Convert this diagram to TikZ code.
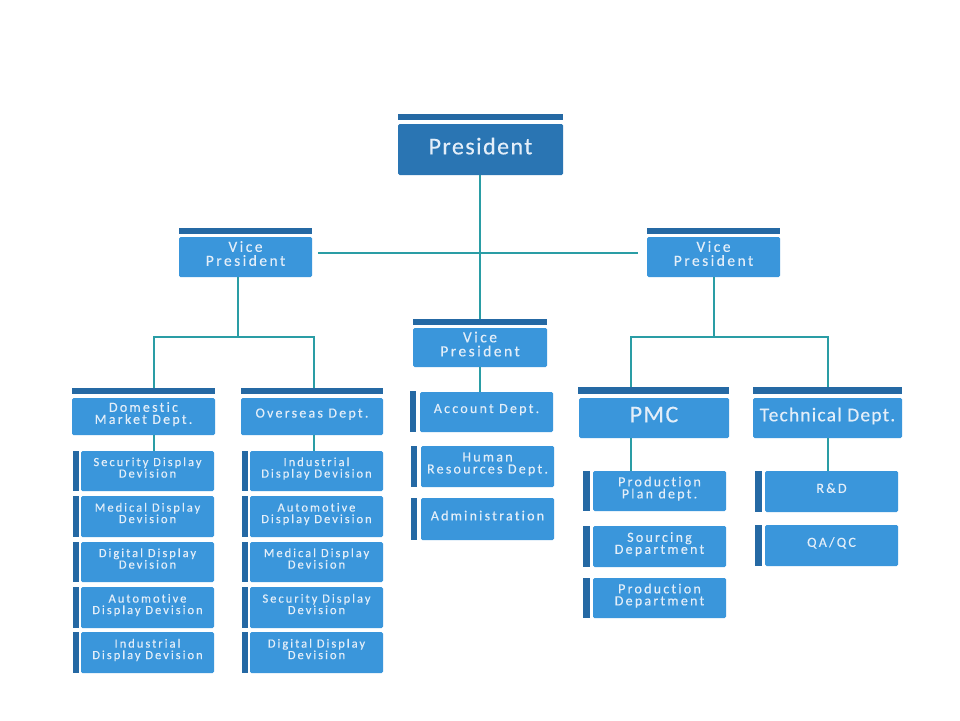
\documentclass[tikz,border=0pt]{standalone}
\usepackage{fontspec}
\setmainfont{Carlito}
\newfontfamily\bigf[LetterSpace=6,Ligatures=NoCommon,FakeBold=0.3]{Carlito}
\newfontfamily\smf[LetterSpace=16,Ligatures=NoCommon,FakeBold=0.3]{Carlito}
\definecolor{boxblue}{HTML}{3A96DB}
\definecolor{presblue}{HTML}{2A75B3}
\definecolor{barblue}{HTML}{2569A4}
\definecolor{conncol}{HTML}{2A9DA5}
\definecolor{txtcol}{HTML}{E3EEF9}
\tikzset{
  x=1pt, y=-1pt,
  orgbox/.style={fill=boxblue, rounded corners=1.5pt, inner sep=0pt, outer sep=0pt,
    text=txtcol, align=center, text depth=7pt},
  barbox/.style={fill=barblue, inner sep=0pt, outer sep=0pt},
  conn/.style={draw=conncol, line width=2pt},
  fbig/.style={font={\bigf\fontsize{24}{26}\selectfont}},
  fmid/.style={font={\bigf\fontsize{19.5}{20}\selectfont}},
  fvp/.style={font={\smf\fontsize{15.5}{14}\selectfont}},
  fdep/.style={font={\smf\fontsize{14}{12}\selectfont}},
  fsub/.style={font={\smf\fontsize{12.5}{11.5}\selectfont}},
}
% name, x1, y1, x2, y2, style, text
\newcommand\obox[7]{\node[orgbox,#6, minimum width={#4-#2}, minimum height={#5-#3}]
  (#1) at ({(#2+#4)/2},{(#3+#5)/2}) {#7};}
\newcommand\obar[5]{\node[barbox, minimum width={#4-#2}, minimum height={#5-#3}]
  (#1) at ({(#2+#4)/2},{(#3+#5)/2}) {};}
\begin{document}
\begin{tikzpicture}
\useasboundingbox[fill=white] (0,0) rectangle (960,720);
% President
\obar{presbar}{398}{114}{563}{120}
\obox{pres}{398}{124}{563}{175}{fbig,fill=presblue}{President}
% Vice Presidents
\obar{vplbar}{179}{228}{312}{234}
\obox{vpl}{179}{237}{312}{277}{fvp}{Vice\\President}
\obar{vprbar}{647}{228}{780}{234}
\obox{vpr}{647}{237}{780}{277}{fvp}{Vice\\President}
\obar{vpcbar}{413}{319}{547}{325}
\obox{vpc}{413}{328}{547}{367}{fvp}{Vice\\President}
% Level 3 left
\obar{dombar}{72}{388}{215}{394}
\obox{dom}{72}{398}{215}{435}{fdep}{Domestic\\Market Dept.}
\obar{ovsbar}{241}{388}{383}{394}
\obox{ovs}{241}{398}{383}{435}{fdep}{Overseas Dept.}
% Level 3 right
\obar{pmcbar}{578}{387}{729}{394}
\obox{pmc}{579}{398}{729}{438}{fbig}{PMC}
\obar{techbar}{753}{387}{902}{394}
\obox{tech}{753}{398}{902}{438}{fmid}{Technical Dept.}
% Center column
\obar{accbar}{410}{391}{416}{432}
\obox{acc}{420}{392}{553}{432}{fdep}{Account Dept.}
\obar{hrbar}{411}{446}{417}{487}
\obox{hr}{421}{446}{554}{487}{fdep}{Human\\Resources Dept.}
\obar{admbar}{411}{498}{417}{540}
\obox{adm}{421}{498}{554}{540}{fdep}{Administration}
% Domestic column
\obar{d1bar}{73}{451}{79}{491}
\obox{d1}{81}{451}{214}{491}{fsub}{Security Display\\Devision}
\obar{d2bar}{73}{496}{79}{537}
\obox{d2}{81}{496}{214}{537}{fsub}{Medical Display\\Devision}
\obar{d3bar}{73}{542}{79}{582}
\obox{d3}{81}{542}{214}{582}{fsub}{Digital Display\\Devision}
\obar{d4bar}{73}{587}{79}{628}
\obox{d4}{81}{587}{214}{628}{fsub}{Automotive\\Display Devision}
\obar{d5bar}{73}{632}{79}{673}
\obox{d5}{81}{632}{214}{673}{fsub}{Industrial\\Display Devision}
% Overseas column
\obar{o1bar}{242}{451}{248}{491}
\obox{o1}{250}{451}{383}{491}{fsub}{Industrial\\Display Devision}
\obar{o2bar}{242}{496}{248}{537}
\obox{o2}{250}{496}{383}{537}{fsub}{Automotive\\Display Devision}
\obar{o3bar}{242}{542}{248}{582}
\obox{o3}{250}{542}{383}{582}{fsub}{Medical Display\\Devision}
\obar{o4bar}{242}{587}{248}{628}
\obox{o4}{250}{587}{383}{628}{fsub}{Security Display\\Devision}
\obar{o5bar}{242}{632}{248}{673}
\obox{o5}{250}{632}{383}{673}{fsub}{Digital Display\\Devision}
% PMC column
\obar{p1bar}{583}{471}{590}{511}
\obox{p1}{593}{471}{726}{511}{fdep}{Production\\Plan dept.}
\obar{p2bar}{583}{526}{590}{567}
\obox{p2}{593}{526}{726}{567}{fdep}{Sourcing\\Department}
\obar{p3bar}{583}{578}{590}{618}
\obox{p3}{593}{578}{726}{618}{fdep}{Production\\Department}
% Technical column
\obar{t1bar}{755}{471}{762}{512}
\obox{t1}{765}{471}{898}{512}{fdep}{R\&D}
\obar{t2bar}{755}{525}{762}{566}
\obox{t2}{765}{525}{898}{566}{fdep}{QA/QC}
% connector x positions
\coordinate (xc) at (480,0);
\coordinate (xl) at (238,0);
\coordinate (xr) at (714,0);
\coordinate (xd) at (154,0);
\coordinate (xo) at (314,0);
\coordinate (xp) at (631,0);
\coordinate (xt) at (828,0);
\coordinate (jl) at (238,337);
\coordinate (jr) at (714,337);
% connectors
\draw[conn] (pres.south -| xc) -- (vpcbar.north -| xc);
\draw[conn, shorten <=6pt, shorten >=9pt] ([yshift=4pt]vpl.east) -- ([yshift=4pt]vpr.west);
\draw[conn] (vpc.south -| xc) -- (acc.north -| xc);
\draw[conn] (vpl.south -| xl) -- (jl);
\draw[conn] (dombar.north -| xd) |- (jl) -| (ovsbar.north -| xo);
\draw[conn] (vpr.south -| xr) -- (jr);
\draw[conn] (pmcbar.north -| xp) |- (jr) -| (techbar.north -| xt);
\draw[conn] (dom.south -| xd) -- (d1.north -| xd);
\draw[conn] (ovs.south -| xo) -- (o1.north -| xo);
\draw[conn] (pmc.south -| xp) -- (p1.north -| xp);
\draw[conn] (tech.south -| xt) -- (t1.north -| xt);
\end{tikzpicture}
\end{document}
